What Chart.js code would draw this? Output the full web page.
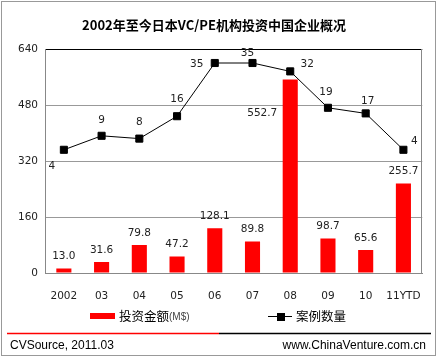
<!DOCTYPE html>
<html><head><meta charset="utf-8">
<script src="https://cdn.jsdelivr.net/npm/chart.js@4/dist/chart.umd.min.js"></script>
<style>html,body{margin:0;padding:0;background:#fff;}canvas{display:block;}</style>
</head><body>
<canvas id="c" width="438" height="358"></canvas>
<script>
const titleText = '2002年至今日本VC/PE机构投资中国企业概况';
const categories = ['2002','03','04','05','06','07','08','09','10','11YTD'];
const amountLabel = '投资金额';
const amountUnit = '(M$)';
const amounts = [13.0, 31.6, 79.8, 47.2, 128.1, 89.8, 552.7, 98.7, 65.6, 255.7];
const countLabel = '案例数量';
const counts = [4, 9, 8, 16, 35, 35, 32, 19, 17, 4];
const yTicks = [0, 160, 320, 480, 640];
const sourceText = 'CVSource, 2011.03';
const siteText = 'www.ChinaVenture.com.cn';

// label placement offsets (style, not data)
const countLabelOffsets = [[-12,16],[0,-16],[0,-16],[0,-17],[-18,1],[-5,-10],[17,-7],[-2,-16],[2,-12],[11,-9]];
const amountLabelOffsets = [[0,-12],[0,-12],[0,-12],[0,-12],[0,-12],[0,-12],[-28,34],[0,-12],[0,-12],[0,-12]];

const tickFont = '10.5px "DejaVu Sans"';
const textColor = '#222';

const decor = {
  id: 'decor',
  afterDatasetsDraw(chart) {
    const ctx = chart.ctx;
    const ca = chart.chartArea;
    ctx.save();
    ctx.strokeStyle = '#888'; ctx.lineWidth = 1;
    ctx.beginPath(); ctx.moveTo(Math.round(ca.right)-0.5, ca.top); ctx.lineTo(Math.round(ca.right)-0.5, ca.bottom); ctx.stroke();
    ctx.font = tickFont; ctx.fillStyle = textColor; ctx.textAlign = 'center'; ctx.textBaseline = 'middle';
    const barMeta = chart.getDatasetMeta(0);
    barMeta.data.forEach((el, i) => {
      const o = amountLabelOffsets[i];
      ctx.fillText(amounts[i].toFixed(1), el.x + o[0], el.y + o[1]);
    });
    const lineMeta = chart.getDatasetMeta(1);
    lineMeta.data.forEach((el, i) => {
      const o = countLabelOffsets[i];
      ctx.fillText(String(counts[i]), el.x + o[0], el.y + o[1]);
    });
    ctx.restore();
  },
  afterDraw(chart) {
    const ctx = chart.ctx;
    ctx.save();
    ctx.strokeStyle = '#999'; ctx.lineWidth = 1;
    ctx.strokeRect(1.5, 1.5, 434, 354);
    ctx.fillStyle = '#000'; ctx.textAlign = 'center'; ctx.textBaseline = 'middle';
    ctx.font = 'bold 13px "Noto Sans CJK SC"';
    ctx.fillText(titleText, 214, 25);
    ctx.fillStyle = '#ff0000';
    ctx.fillRect(90, 313, 25, 6);
    ctx.textAlign = 'left';
    ctx.fillStyle = '#000';
    ctx.font = '12.5px "Noto Sans CJK SC"';
    ctx.fillText(amountLabel, 119, 316);
    const w = ctx.measureText(amountLabel).width;
    ctx.fillStyle = '#444';
    ctx.font = '10px "Liberation Sans"';
    ctx.fillText(amountUnit, 119 + w, 317);
    ctx.strokeStyle = '#000'; ctx.lineWidth = 1;
    ctx.beginPath(); ctx.moveTo(268, 316.5); ctx.lineTo(292, 316.5); ctx.stroke();
    ctx.fillStyle = '#000';
    ctx.fillRect(277, 313, 8, 8);
    ctx.font = '12.5px "Noto Sans CJK SC"';
    ctx.fillText(countLabel, 296, 316);
    ctx.lineWidth = 1.5;
    ctx.strokeStyle = '#ff0000';
    ctx.beginPath(); ctx.moveTo(7, 333.5); ctx.lineTo(219, 333.5); ctx.stroke();
    ctx.strokeStyle = '#000';
    ctx.beginPath(); ctx.moveTo(219, 333.5); ctx.lineTo(431, 333.5); ctx.stroke();
    ctx.fillStyle = '#000';
    ctx.font = '12px "Liberation Sans"';
    ctx.textAlign = 'left';
    ctx.fillText(sourceText, 10, 346);
    ctx.textAlign = 'right';
    ctx.fillText(siteText, 426, 346);
    ctx.restore();
  }
};

new Chart(document.getElementById('c'), {
  data: {
    labels: categories,
    datasets: [
      { type: 'bar', label: amountLabel + amountUnit, data: amounts, backgroundColor: '#ff0000',
        yAxisID: 'y', order: 1, barPercentage: 0.4, categoryPercentage: 1 },
      { type: 'line', label: countLabel, data: counts, yAxisID: 'y1', order: 0,
        borderColor: '#000', borderWidth: 1, backgroundColor: '#000',
        pointStyle: 'rect', pointRadius: 5, pointBorderWidth: 1, pointBackgroundColor: '#000', pointBorderColor: '#000',
        tension: 0, fill: false }
    ]
  },
  options: {
    responsive: false,
    animation: false,
    devicePixelRatio: 1,
    layout: { padding: { top: 49, left: 0, right: 9, bottom: 0 } },
    plugins: { legend: { display: false }, tooltip: { enabled: false }, title: { display: false } },
    scales: {
      x: {
        grid: { display: false, drawTicks: false },
        border: { display: true, color: '#888' },
        ticks: { font: { family: 'DejaVu Sans', size: 10.5 }, color: textColor, padding: 17, maxRotation: 0, autoSkip: false },
        afterFit(s) { s.height = 85; }
      },
      y: {
        min: 0, max: 640,
        afterBuildTicks(s) { s.ticks = yTicks.map(v => ({ value: v })); },
        grid: { drawTicks: false, color: ctx => (ctx.tick && ctx.tick.value === 640) ? '#000' : '#999', lineWidth: 1 },
        border: { display: true, color: '#888' },
        ticks: { font: { family: 'DejaVu Sans', size: 10.5 }, color: textColor, padding: 7 },
        afterFit(s) { s.width = 45; }
      },
      y1: { display: false, min: -40, max: 40 }
    }
  },
  plugins: [decor]
});
</script>
</body></html>
